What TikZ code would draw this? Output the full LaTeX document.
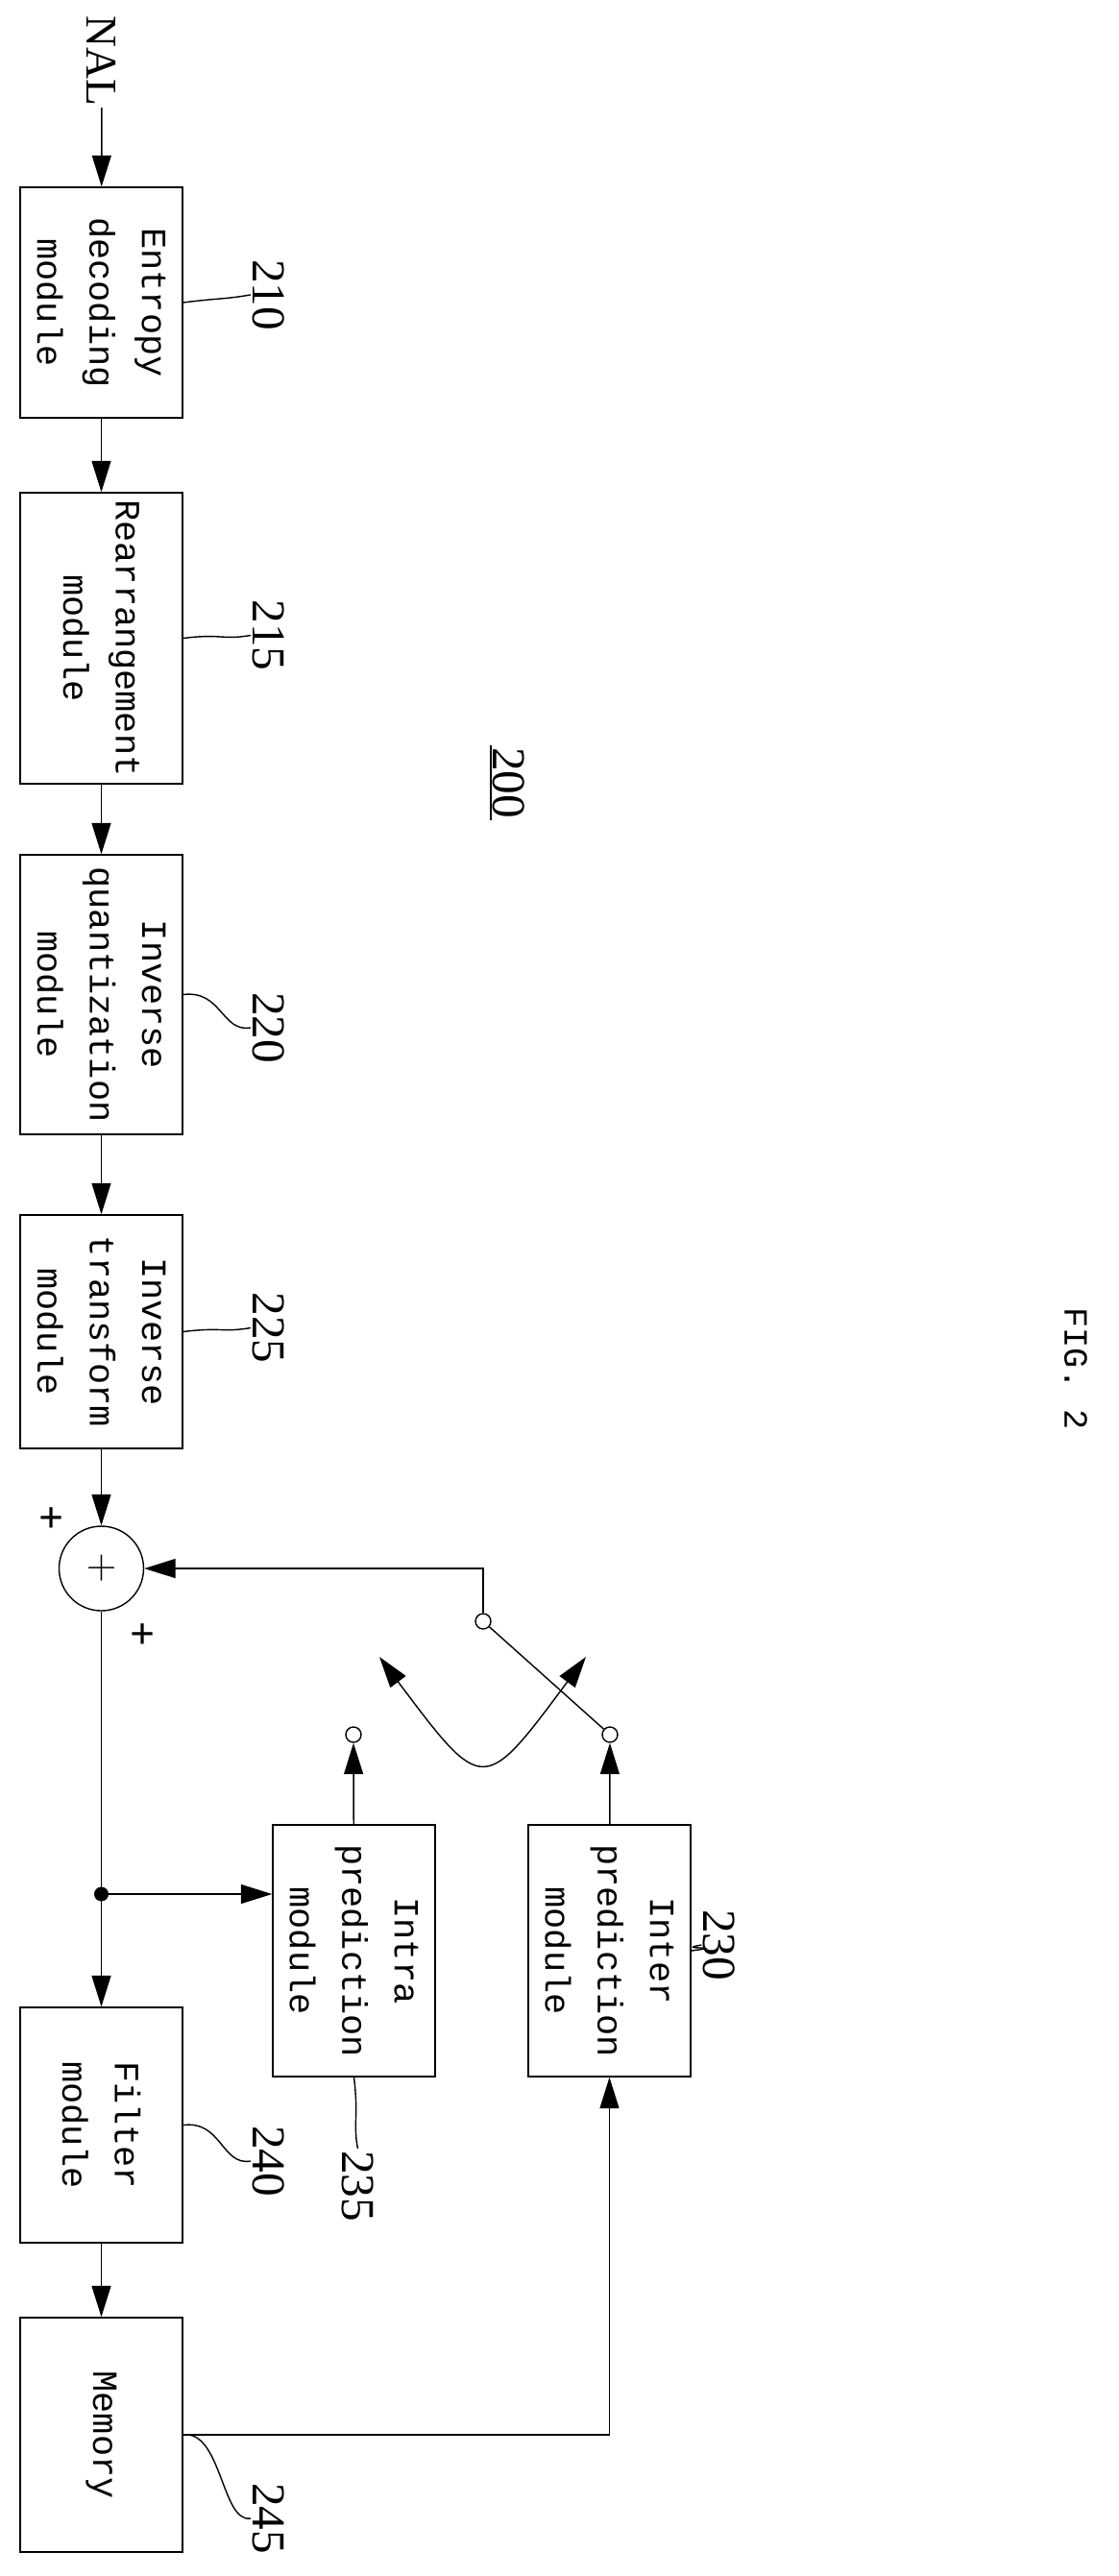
\documentclass[tikz,border=0pt]{standalone}
\usepackage{fontspec}
\setmainfont{Liberation Serif}
\setmonofont{Liberation Mono}
\usetikzlibrary{shapes, arrows, arrows.meta, positioning}

\begin{document}
\begin{tikzpicture}[
        module/.style={rectangle, draw, line width=0.8pt, rotate=-90, minimum height=3.38cm, align=center, font=\fontsize{21}{31}\selectfont\ttfamily},
        refnum/.style={rotate=-90, font=\fontsize{28}{30}\selectfont, inner sep=1pt},
        term/.style={circle, draw, line width=0.8pt, fill=white, minimum size=0.32cm, inner sep=0pt},
        arr/.style={-{Triangle[length=0.65cm,width=0.4cm]}, line width=0.8pt},
        lead/.style={line width=0.8pt}
    ]
        \useasboundingbox (0,0) rectangle (23.28,-53.64);

        % chain of modules
        \node[refnum, font=\fontsize{26}{28}\selectfont] (nal) at (2.12,-1.26) {NAL};
        \node[module, minimum width=4.8cm] (ent) at (2.11,-6.3) {Entropy\\decoding\\module};
        \node[module, minimum width=6.06cm] (rea) at (2.11,-13.29) {Rearrangement\\module};
        \node[module, minimum width=5.82cm] (inq) at (2.11,-20.71) {Inverse\\quantization\\module};
        \node[module, minimum width=4.86cm] (invt) at (2.11,-27.73) {Inverse\\transform\\module};
        \node[circle, draw, line width=0.8pt, minimum size=1.76cm, inner sep=0pt, font=\fontsize{30}{30}\selectfont] (sum) at (2.11,-32.66) {$+$};
        \node[circle, fill, minimum size=0.3cm, inner sep=0pt] (dot) at (2.11,-39.44) {};
        \node[module, minimum width=4.9cm] (filt) at (2.11,-44.25) {Filter\\module};
        \node[module, minimum width=4.88cm] (mem) at (2.11,-50.7) {Memory};
        \node[module, minimum width=5.24cm] (intra) at (7.37,-40.62) {Intra\\prediction\\module};
        \node[module, minimum width=5.24cm] (inter) at (12.69,-40.62) {Inter\\prediction\\module};

        % switch
        \node[term] (tintra) at (7.36,-36.12) {};
        \node[term] (tinter) at (12.7,-36.12) {};
        \node[term] (piv) at (10.06,-33.76) {};
        \coordinate (swa) at (7.9,-34.5);
        \coordinate (swb) at (12.2,-34.5);

        \node[font=\fontsize{26}{26}\selectfont\bfseries] (pa) at (1.08,-31.66) {+};
        \node[font=\fontsize{26}{26}\selectfont\bfseries] (pb) at (2.98,-34.08) {+};

        % reference numerals
        \node[refnum] (l210) at (5.59,-6.14) {210};
        \node[refnum] (l215) at (5.59,-13.23) {215};
        \node[refnum] (l220) at (5.59,-21.4) {220};
        \node[refnum] (l225) at (5.59,-27.65) {225};
        \node[refnum] (l240) at (5.59,-45.0) {240};
        \node[refnum] (l245) at (5.59,-52.44) {245};
        \node[refnum] (l235) at (7.45,-45.52) {235};
        \node[refnum] (l230) at (14.98,-40.5) {230};
        \node[refnum] (l200) at (10.6,-16.3) {200};
        \draw[line width=1pt] (l200.south west) -- (l200.south east);
        \node[rotate=-90, font=\fontsize{20}{22}\selectfont\ttfamily] (fig) at (22.4,-28.5) {FIG. 2};

        % connectors
        \draw[arr] (nal) -- (ent);
        \draw[arr] (ent) -- (rea);
        \draw[arr] (rea) -- (inq);
        \draw[arr] (inq) -- (invt);
        \draw[arr] (invt) -- (sum);
        \draw[arr] (sum) -- (filt);
        \draw[arr] (filt) -- (mem);
        \draw[arr] (dot) -- (dot -| intra.south);
        \draw[arr] (intra) -- (tintra);
        \draw[arr] (inter) -- (tinter);
        \draw[arr] (mem.north) -| (inter.east);
        \draw[arr] (piv) |- (sum);
        \draw[line width=0.8pt] (piv) -- (tinter);
        \draw[{Triangle[length=0.65cm,width=0.4cm]}-{Triangle[length=0.65cm,width=0.4cm]}, line width=0.8pt] (swa) .. controls (10.06,-37.38) .. (swb);

        % leaders
        \foreach \mod/\lab in {ent/l210, rea/l215, inq/l220, invt/l225, filt/l240, mem/l245, inter/l230}
            \draw[lead] (\mod.north) .. controls +(0.8,0.1) and +(-0.6,-0.1) .. (\lab.south);
        \draw[lead] (intra.east) .. controls +(0.1,-0.8) and +(-0.1,0.5) .. (l235.west);
\end{tikzpicture}
\end{document}
